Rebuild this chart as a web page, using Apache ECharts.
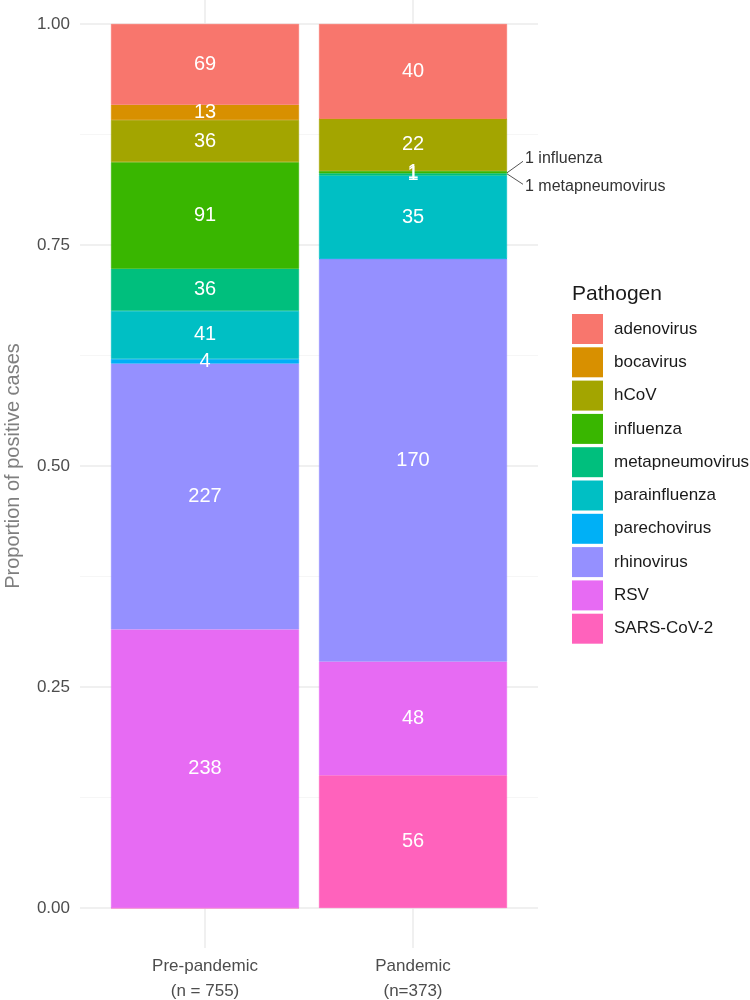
<!DOCTYPE html>
<html>
<head>
<meta charset="utf-8">
<script src="https://cdn.jsdelivr.net/npm/echarts@6/dist/echarts.min.js"></script>
<style>html,body{margin:0;padding:0;background:#fff}#c{width:750px;height:1000px}</style>
</head>
<body>
<div id="c"></div>
<script>
const categories = ['Pre-pandemic\n(n = 755)', 'Pandemic\n(n=373)'];
const pathogens = ['adenovirus', 'bocavirus', 'hCoV', 'influenza', 'metapneumovirus', 'parainfluenza', 'parechovirus', 'rhinovirus', 'RSV', 'SARS-CoV-2'];
const colors = ['#F8766D', '#D89000', '#A3A500', '#39B600', '#00BF7D', '#00BFC4', '#00B0F6', '#9590FF', '#E76BF3', '#FF62BC'];
const prePandemic = [69, 13, 36, 91, 36, 41, 4, 227, 238, 0];
const pandemic = [40, 0, 22, 1, 1, 35, 0, 170, 48, 56];
const yTicks = [0, 0.25, 0.5, 0.75, 1];
const annotations = ['1 influenza', '1 metapneumovirus'];

const counts = [prePandemic, pandemic];
const totals = counts.map(a => a.reduce((s, v) => s + v, 0));

const chart = echarts.init(document.getElementById('c'), null, {renderer: 'canvas'});
const FONT = '"Liberation Sans", Arial, sans-serif';
const BAR_W = 188;
const GRID_COLOR = '#ebebeb';

const series = [];
for (let i = pathogens.length - 1; i >= 0; i--) {
  series.push({
    name: pathogens[i],
    type: 'bar',
    stack: 'total',
    xAxisIndex: 0,
    yAxisIndex: 1,
    barWidth: BAR_W,
    itemStyle: {color: colors[i], borderColor: colors[i], borderWidth: 0.6},
    emphasis: {disabled: true},
    label: {
      show: true,
      position: 'inside',
      color: '#fff',
      fontSize: 20,
      fontFamily: FONT,
      formatter: p => {
        const c = counts[p.dataIndex][i];
        return c === 0 ? '' : String(c);
      }
    },
    data: counts.map((arr, k) => arr[i] / totals[k])
  });
}

chart.setOption({
  animation: false,
  backgroundColor: '#fff',
  title: {
    text: 'Pathogen',
    left: 567,
    top: 279,
    textStyle: {fontSize: 21, fontWeight: 'normal', color: '#1a1a1a', fontFamily: FONT}
  },
  legend: {
    data: pathogens,
    orient: 'vertical',
    left: 572,
    top: 314,
    padding: 0,
    itemWidth: 31,
    itemHeight: 30,
    itemGap: 3.3,
    icon: 'rect',
    itemStyle: {borderWidth: 0},
    selectedMode: false,
    textStyle: {fontSize: 17, color: '#1a1a1a', fontFamily: FONT, padding: [0, 0, 0, 6]}
  },
  grid: [
    {left: 80, right: 212, top: 24, bottom: 92, outerBoundsMode: 'none', containLabel: false},
    {left: 101, right: 233, top: 24, bottom: 92, outerBoundsMode: 'none', containLabel: false}
  ],
  xAxis: [{
    gridIndex: 1,
    type: 'category',
    data: categories,
    axisLine: {show: false},
    splitLine: {show: false},
    axisTick: {show: true, alignWithLabel: true, length: 40, lineStyle: {color: GRID_COLOR, width: 1.5}},
    axisLabel: {
      margin: 46,
      fontSize: 17,
      lineHeight: 25,
      color: '#4d4d4d',
      fontFamily: FONT
    }
  }, {
    gridIndex: 1,
    type: 'category',
    position: 'top',
    data: categories,
    axisLine: {show: false},
    splitLine: {show: false},
    axisTick: {show: true, alignWithLabel: true, length: 24, lineStyle: {color: GRID_COLOR, width: 1.5}},
    axisLabel: {show: false}
  }, {
    gridIndex: 0,
    type: 'value',
    min: 0,
    max: 1,
    show: false
  }],
  yAxis: [{
    gridIndex: 0,
    type: 'value',
    min: 0,
    max: 1,
    interval: 0.25,
    name: 'Proportion of positive cases',
    nameLocation: 'middle',
    nameGap: 57,
    nameTextStyle: {fontSize: 20, color: '#7f7f7f', fontFamily: FONT},
    axisLine: {show: false},
    axisTick: {show: false},
    axisLabel: {
      formatter: v => yTicks.includes(v) ? v.toFixed(2) : '',
      margin: 10,
      fontSize: 17,
      color: '#4d4d4d',
      fontFamily: FONT
    },
    splitLine: {show: true, lineStyle: {color: GRID_COLOR, width: 1.5}},
    minorTick: {show: false, splitNumber: 2},
    minorSplitLine: {show: true, lineStyle: {color: '#f4f4f4', width: 0.8}}
  }, {
    gridIndex: 1,
    type: 'value',
    min: 0,
    max: 1,
    show: false,
    splitLine: {show: false}
  }],
  series: series
});

// leader-line annotations for the two tiny pandemic segments
const idxMeta = pathogens.indexOf('metapneumovirus');
let below = 0;
for (let i = pathogens.length - 1; i > idxMeta; i--) below += pandemic[i];
const boundary = (below + pandemic[idxMeta]) / totals[1];
const p = chart.convertToPixel({xAxisIndex: 0, yAxisIndex: 1}, [1, boundary]);
const ax = p[0] + BAR_W / 2, ay = p[1];
chart.setOption({
  graphic: [
    {type: 'line', shape: {x1: ax, y1: ay - 0.5, x2: ax + 16, y2: ay - 12}, style: {stroke: '#555', lineWidth: 1}},
    {type: 'line', shape: {x1: ax, y1: ay + 0.5, x2: ax + 16, y2: ay + 11}, style: {stroke: '#555', lineWidth: 1}},
    {type: 'text', x: ax + 18, y: ay - 15, style: {text: annotations[0], fontSize: 16, fill: '#333', fontFamily: FONT, verticalAlign: 'middle'}},
    {type: 'text', x: ax + 18, y: ay + 13, style: {text: annotations[1], fontSize: 16, fill: '#333', fontFamily: FONT, verticalAlign: 'middle'}}
  ]
});
</script>
</body>
</html>
